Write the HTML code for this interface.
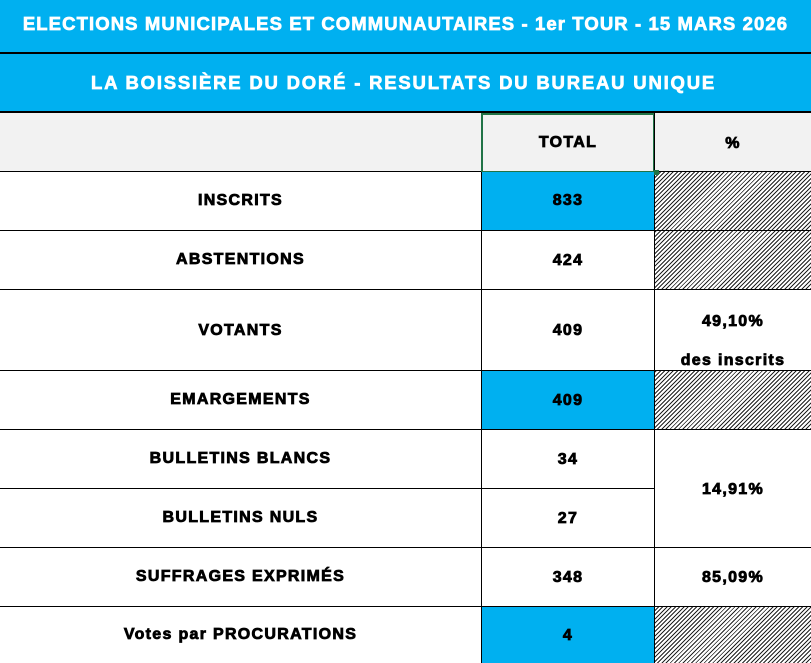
<!DOCTYPE html>
<html><head><meta charset="utf-8"><style>
*{margin:0;padding:0;box-sizing:border-box}
body{width:811px;height:663px;overflow:hidden;background:#fff;font-family:"Liberation Sans",Arial,sans-serif;font-weight:bold;position:relative}
.a{position:absolute}
.t{position:absolute;left:0;width:811px;text-align:center;color:#fff;font-size:18.5px;letter-spacing:1.3px;-webkit-text-stroke:0.7px #fff;white-space:nowrap}
.c{position:absolute;display:flex;align-items:center;justify-content:center;text-align:center;font-size:16px;letter-spacing:1.3px;-webkit-text-stroke:0.8px #000;color:#000;border-bottom:1px solid #000}
.h{background:repeating-linear-gradient(-45deg,#222 0 1px,#fff 1px 3px)}
.b{background:#00b0f0}
</style></head><body>
<div class="a b" style="left:0;top:0;width:811px;height:52px"></div>
<div class="a" style="left:0;top:52px;width:811px;height:2px;background:#000"></div>
<div class="a b" style="left:0;top:54px;width:811px;height:57px"></div>
<div class="a" style="left:0;top:111px;width:811px;height:2px;background:#000"></div>
<div class="t" style="top:13px;left:0;letter-spacing:1.1px">ELECTIONS MUNICIPALES ET COMMUNAUTAIRES - 1er TOUR - 15 MARS 2026</div>
<div class="t" style="top:72px;letter-spacing:1.8px;padding-right:4px">LA BOISSIÈRE DU DORÉ - RESULTATS DU BUREAU UNIQUE</div>
<div class="a" style="left:0;top:113px;width:811px;height:59px;background:#f2f2f2;border-bottom:1px solid #000"></div>
<div class="c" style="left:481px;top:113px;width:174px;height:60px;border:2px solid #217346;background:#f2f2f2">TOTAL</div>
<div class="c" style="left:655px;top:113px;width:156px;height:59px;border-bottom:none;padding-top:2px">%</div>

<div class="c" style="left:0;top:172px;width:481px;height:59px">INSCRITS</div>
<div class="c b" style="left:481px;top:172px;width:174px;height:59px">833</div>
<div class="c h" style="left:655px;top:172px;width:156px;height:59px"></div>

<div class="c" style="left:0;top:231px;width:481px;height:59px">ABSTENTIONS</div>
<div class="c" style="left:481px;top:231px;width:174px;height:59px;padding-top:2px">424</div>
<div class="c h" style="left:655px;top:231px;width:156px;height:59px"></div>

<div class="c" style="left:0;top:290px;width:481px;height:81px;padding-top:2px">VOTANTS</div>
<div class="c" style="left:481px;top:290px;width:174px;height:81px;padding-top:2px">409</div>
<div class="c" style="left:655px;top:290px;width:156px;height:81px;flex-direction:column;line-height:39px;padding-top:22px">49,10%<br>des inscrits</div>

<div class="c" style="left:0;top:371px;width:481px;height:59px">EMARGEMENTS</div>
<div class="c b" style="left:481px;top:371px;width:174px;height:59px;padding-top:2px">409</div>
<div class="c h" style="left:655px;top:371px;width:156px;height:59px"></div>

<div class="c" style="left:0;top:430px;width:481px;height:59px">BULLETINS BLANCS</div>
<div class="c" style="left:481px;top:430px;width:174px;height:59px;padding-top:2px">34</div>
<div class="c" style="left:0;top:489px;width:481px;height:59px">BULLETINS NULS</div>
<div class="c" style="left:481px;top:489px;width:174px;height:59px;padding-top:2px">27</div>
<div class="c" style="left:655px;top:430px;width:156px;height:118px;padding-top:2px">14,91%</div>

<div class="c" style="left:0;top:548px;width:481px;height:59px">SUFFRAGES EXPRIMÉS</div>
<div class="c" style="left:481px;top:548px;width:174px;height:59px;padding-top:2px">348</div>
<div class="c" style="left:655px;top:548px;width:156px;height:59px;padding-top:2px">85,09%</div>

<div class="c" style="left:0;top:607px;width:481px;height:56px;border-bottom:none">Votes par PROCURATIONS</div>
<div class="c b" style="left:481px;top:607px;width:174px;height:56px;border-bottom:none;padding-top:2px">4</div>
<div class="c h" style="left:655px;top:607px;width:156px;height:56px;border-bottom:none"></div>

<div class="a" style="left:481px;top:172px;width:1px;height:491px;background:#000"></div>
<div class="a" style="left:654px;top:113px;width:1px;height:550px;background:#000"></div>
<div class="a" style="left:654px;top:170px;width:5px;height:5px;background:#217346"></div>
</body></html>
